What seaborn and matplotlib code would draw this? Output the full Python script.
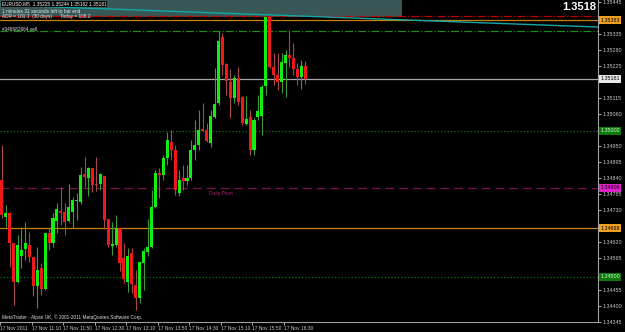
import matplotlib
matplotlib.use("Agg")
import matplotlib.pyplot as plt
import seaborn as sns
import pandas as pd
import numpy as np

# ---------------- data ----------------
opens = [1.34833, 1.34706, 1.34720, 1.34617, 1.34483, 1.34572, 1.34596, 1.34610, 1.34569, 1.34469,
         1.34531, 1.34459, 1.34651, 1.34617, 1.34692, 1.34727, 1.34723, 1.34692, 1.34723, 1.34761,
         1.34758, 1.34854, 1.34840, 1.34874, 1.34820, 1.34820, 1.34847, 1.34699, 1.34606, 1.34610,
         1.34668, 1.34565, 1.34483, 1.34582, 1.34472, 1.34428, 1.34548, 1.34586, 1.34603, 1.34740,
         1.34857, 1.34850, 1.34909, 1.34964, 1.34936, 1.34789, 1.34840, 1.34830, 1.34840, 1.34936,
         1.34954, 1.35009, 1.35005, 1.34960, 1.35050, 1.35098, 1.35325, 1.35232, 1.35170, 1.35115,
         1.35184, 1.35119, 1.35026, 1.35050, 1.34936, 1.35050, 1.35053, 1.35156, 1.35394, 1.35222,
         1.35194, 1.35170, 1.35235, 1.35263, 1.35253, 1.35215, 1.35187, 1.35225]
highs = [1.34954, 1.34747, 1.34723, 1.34617, 1.34644, 1.34672, 1.34689, 1.34655, 1.34569, 1.34603,
         1.34548, 1.34651, 1.34668, 1.34720, 1.34754, 1.34809, 1.34754, 1.34820, 1.34775, 1.34789,
         1.34878, 1.34912, 1.34878, 1.34874, 1.34912, 1.34857, 1.34847, 1.34699, 1.34689, 1.34713,
         1.34668, 1.34617, 1.34600, 1.34600, 1.34524, 1.34551, 1.34600, 1.34699, 1.34799, 1.34868,
         1.34874, 1.34919, 1.34998, 1.35005, 1.34954, 1.34868, 1.34885, 1.34885, 1.34971, 1.35040,
         1.35074, 1.35098, 1.35029, 1.35074, 1.35218, 1.35345, 1.35339, 1.35235, 1.35215, 1.35194,
         1.35222, 1.35122, 1.35122, 1.35074, 1.35046, 1.35125, 1.35160, 1.35394, 1.35397, 1.35270,
         1.35270, 1.35270, 1.35280, 1.35349, 1.35304, 1.35235, 1.35246, 1.35244]
lows = [1.34703, 1.34672, 1.34534, 1.34404, 1.34479, 1.34531, 1.34558, 1.34551, 1.34435, 1.34393,
        1.34438, 1.34455, 1.34593, 1.34603, 1.34651, 1.34679, 1.34644, 1.34689, 1.34668, 1.34696,
        1.34751, 1.34809, 1.34778, 1.34792, 1.34795, 1.34799, 1.34665, 1.34603, 1.34575, 1.34603,
        1.34520, 1.34479, 1.34448, 1.34445, 1.34386, 1.34410, 1.34455, 1.34572, 1.34600, 1.34737,
        1.34771, 1.34833, 1.34885, 1.34902, 1.34782, 1.34778, 1.34799, 1.34816, 1.34833, 1.34902,
        1.34936, 1.35002, 1.34964, 1.34947, 1.35046, 1.35091, 1.35194, 1.35125, 1.35046, 1.35098,
        1.35091, 1.35022, 1.35022, 1.34919, 1.34919, 1.35040, 1.34988, 1.35125, 1.35218, 1.35160,
        1.35143, 1.35132, 1.35119, 1.35222, 1.35194, 1.35160, 1.35146, 1.35162]
closes = [1.34713, 1.34720, 1.34617, 1.34483, 1.34610, 1.34593, 1.34617, 1.34569, 1.34469, 1.34524,
          1.34459, 1.34651, 1.34617, 1.34703, 1.34734, 1.34720, 1.34689, 1.34740, 1.34765, 1.34762,
          1.34850, 1.34844, 1.34874, 1.34816, 1.34816, 1.34854, 1.34696, 1.34610, 1.34613, 1.34668,
          1.34548, 1.34493, 1.34572, 1.34476, 1.34428, 1.34551, 1.34589, 1.34603, 1.34740, 1.34857,
          1.34850, 1.34909, 1.34971, 1.34936, 1.34799, 1.34833, 1.34830, 1.34840, 1.34936, 1.34954,
          1.35005, 1.35002, 1.34967, 1.35053, 1.35094, 1.35311, 1.35229, 1.35174, 1.35115, 1.35184,
          1.35101, 1.35029, 1.35043, 1.34936, 1.35040, 1.35070, 1.35153, 1.35394, 1.35222, 1.35194,
          1.35170, 1.35239, 1.35263, 1.35253, 1.35215, 1.35187, 1.35225, 1.35181]

time_labels = ["17 Nov 2011", "17 Nov 11:10", "17 Nov 11:50", "17 Nov 12:30", "17 Nov 13:10",
               "17 Nov 13:50", "17 Nov 14:30", "17 Nov 15:10", "17 Nov 15:50", "17 Nov 16:30"]
time_label_bars = [0, 8, 16, 24, 32, 40, 48, 56, 64, 72]

price_ticks = [1.34345, 1.34400, 1.34455, 1.34510, 1.34565, 1.34620, 1.34675, 1.34730, 1.34785,
               1.34840, 1.34895, 1.34950, 1.35005, 1.35060, 1.35115, 1.35170, 1.35225, 1.35280,
               1.35335, 1.35390, 1.35445]

# horizontal levels: (price, colour, style, box label, box colour, box text colour)
level_prices = [1.35397, 1.35383, 1.35345, 1.35181, 1.35002, 1.34806, 1.34668, 1.34500]
level_colors = ["#c00000", "#c8820c", "#1a8c1a", "#a8a8a8", "#0d7a0d", "#7a1050", "#c8820c", "#0d7a0d"]
level_styles = ["-.", "-", "-.", "-", ":", "--", "-", ":"]
box_labels = [None, "1.35383", None, "1.35181", "1.35002", "1.34806", "1.34668", "1.34500"]
box_colors = [None, "#f0a020", None, "#e8e8e8", "#0b7a0b", "#e020c8", "#f0a020", "#0b7a0b"]
box_text = [None, "black", None, "black", "#d0ffd0", "black", "black", "#d0ffd0"]

trend_bars = [-0.43, 151.3]
trend_prices = [1.35435, 1.35359]

# ---------------- style ----------------
sns.set_theme(style="dark", rc={"axes.facecolor": "black", "figure.facecolor": "black",
                                "axes.edgecolor": "#a0a0a0", "grid.color": "black"})
plt.rcParams["font.family"] = ["Liberation Sans", "DejaVu Sans"]

fig = plt.figure(figsize=(6.25, 3.32), dpi=100)
ax = fig.add_axes([0, 10 / 332, 598 / 625, 322 / 332])
ax.set_facecolor("black")

df = pd.DataFrame({"o": opens, "h": highs, "l": lows, "c": closes})
df["i"] = np.arange(len(df))
up = df["c"] >= df["o"]

ylo, yhi = 1.34345, 1.35452
ax.set_xlim(-0.43, 151.3)
ax.set_ylim(ylo, yhi)

# info box at top
ax.axvspan(-0.43, 101.6, ymin=(1.35394 - ylo) / (yhi - ylo), ymax=1, color="#3a5757", lw=0, zorder=1)

# level lines
for p, col, ls in zip(level_prices, level_colors, level_styles):
    if ls == "--":
        ax.axhline(p, color=col, lw=0.9, dashes=(7, 4), zorder=2)
    else:
        ax.axhline(p, color=col, lw=0.9, ls=ls, zorder=2)

# trend line
tdf = pd.DataFrame({"bar": trend_bars, "price": trend_prices})
sns.lineplot(data=tdf, x="bar", y="price", ax=ax, color="#12a8a8", lw=1.0, zorder=3)

# candles
wick_col = np.where(up, "#3c9a3c", "#a84848")
ax.vlines(df["i"], df["l"], df["h"], colors=wick_col, lw=0.8, zorder=4)
body_bottom = np.minimum(df["o"], df["c"])
body_h = np.maximum(np.abs(df["c"] - df["o"]), 0.00002)
ax.bar(df["i"], body_h, bottom=body_bottom, width=0.78,
       color=np.where(up, "#10f010", "#f01818"), linewidth=0, zorder=5)

# axes
ax.set_xlabel("")
ax.set_ylabel("")
ax.yaxis.tick_right()
ax.set_yticks(price_ticks)
box_prices = [p for p, b in zip(level_prices, box_labels) if b is not None]
tick_text = []
for p in price_ticks:
    hidden = any(abs(p - b) < 0.00015 for b in box_prices)
    tick_text.append("" if hidden else f"{p:.5f}")
ax.set_yticklabels(tick_text)
ax.tick_params(axis="y", colors="#c8c8c8", labelsize=3.9, length=2, width=0.6, pad=1.5, right=True, left=False)
ax.set_xticks([b - 0.45 for b in time_label_bars])
ax.set_xticklabels(time_labels, ha="left")
ax.tick_params(axis="x", colors="#c8c8c8", labelsize=3.5, length=2, width=0.6, pad=1, bottom=True)
for s in ["top", "left"]:
    ax.spines[s].set_visible(False)
for s in ["right", "bottom"]:
    ax.spines[s].set_color("#a0a0a0")
    ax.spines[s].set_linewidth(0.8)
ax.grid(False)

# boxes on the price scale
ytr = ax.get_yaxis_transform()
for p, lab, bc, tc in zip(level_prices, box_labels, box_colors, box_text):
    if lab is None:
        continue
    ax.text(1.004, p, lab, transform=ytr, fontsize=3.9, color=tc, va="center", ha="left",
            clip_on=False, zorder=10,
            bbox=dict(boxstyle="square,pad=0.25", fc=bc, ec="none"))

# texts
axt = ax.transAxes
ax.text(0.003, 0.996, "EURUSD,M5  1.35225 1.35244 1.35162 1.35181", transform=axt, fontsize=3.4,
        color="white", va="top", ha="left", zorder=8,
        bbox=dict(boxstyle="square,pad=0.15", fc="black", ec="none"))
ax.text(0.003, 0.972, "1 minutes 31 seconds left to bar end", transform=axt, fontsize=3.4,
        color="#d8f0f0", va="top", ha="left", zorder=8)
ax.text(0.003, 0.955, "ADR = 101.1  (30 days)      Today = 108.2", transform=axt, fontsize=3.4,
        color="#e8e8e8", va="top", ha="left", zorder=8)
ax.text(0.004, 0.916, "#048682664 sell", transform=axt, fontsize=3.4, color="#e0e0e0",
        va="top", ha="left", zorder=8)
ax.text(0.997, 0.995, "1.3518", transform=axt, fontsize=8, color="white", fontweight="bold",
        va="top", ha="right", zorder=8)
ax.text(52.5, 1.34795, "Daily Pivot", fontsize=3.6, color="#b0207a", va="top", ha="left", zorder=8)
ax.text(0.003, 0.006, "MetaTrader - Alpari UK, \u00a9 2001-2011 MetaQuotes Software Corp.",
        transform=axt, fontsize=3.4, color="#e0e0e0", va="bottom", ha="left", zorder=8)

fig.savefig("out.png", dpi=100, facecolor="black")
